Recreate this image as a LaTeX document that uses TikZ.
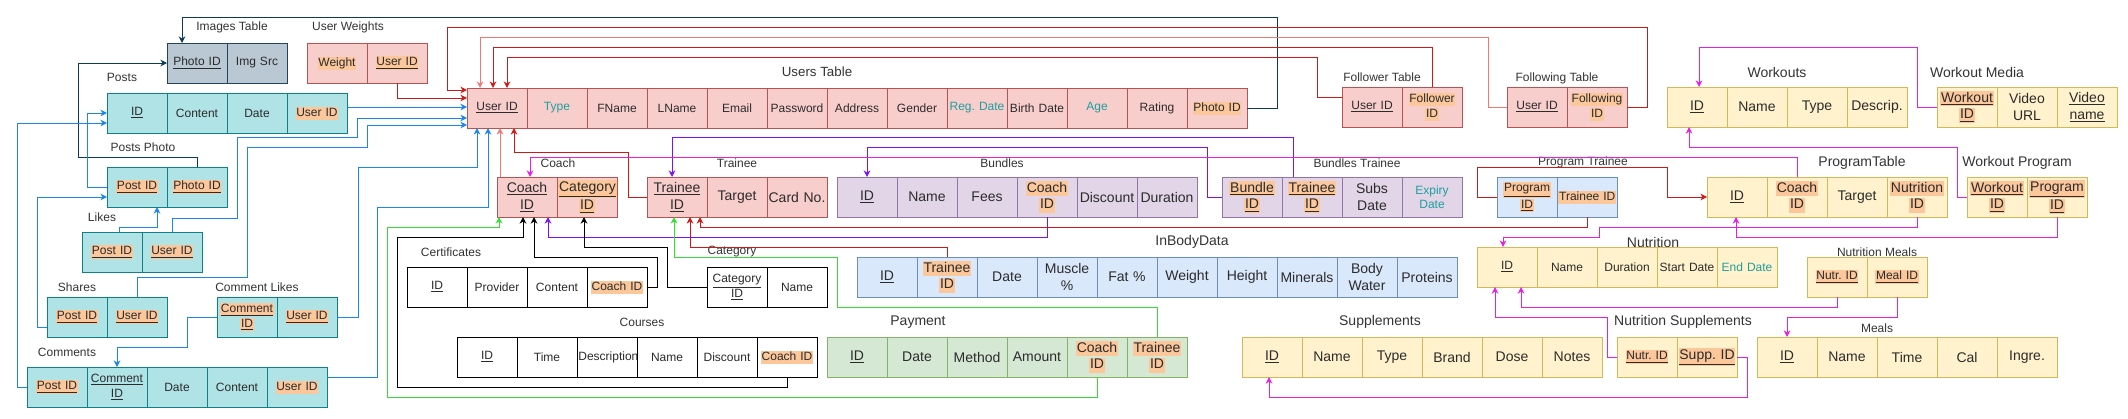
\documentclass[tikz,border=0pt]{standalone}
\usepackage{fontspec}
\setmainfont{Liberation Sans}
\usepackage{xcolor}
\usepackage{tikz}
\usetikzlibrary{positioning, arrows.meta}
\frenchspacing
\definecolor{userfill}{HTML}{F8CECC}
\definecolor{userline}{HTML}{B85450}
\definecolor{tealfill}{HTML}{B0E3E6}
\definecolor{tealline}{HTML}{0E8088}
\definecolor{slatefill}{HTML}{BAC8D3}
\definecolor{slateline}{HTML}{23445D}
\definecolor{lilacfill}{HTML}{E1D5E7}
\definecolor{lilacline}{HTML}{9673A6}
\definecolor{skyfill}{HTML}{DAE8FC}
\definecolor{skyline}{HTML}{6C8EBF}
\definecolor{mintfill}{HTML}{D5E8D4}
\definecolor{mintline}{HTML}{82B366}
\definecolor{sandfill}{HTML}{FFF2CC}
\definecolor{sandline}{HTML}{D6B656}
\definecolor{fkbg}{HTML}{FBC79B}
\definecolor{derivedtext}{HTML}{1F9E9E}
\definecolor{celltext}{HTML}{2B2B2B}
\definecolor{titletext}{HTML}{333333}
\definecolor{linkred}{HTML}{D01818}
\definecolor{linksalmon}{HTML}{EE7A76}
\definecolor{linkblue}{HTML}{1A86F0}
\definecolor{linknavy}{HTML}{0D3A5C}
\definecolor{linkviolet}{HTML}{7F10F0}
\definecolor{linkpink}{HTML}{E61EE6}
\definecolor{linkgreen}{HTML}{36DC36}
\newcommand{\pxtwelve}{\fontsize{9pt}{10.8pt}\selectfont}
\newcommand{\pxthirteen}{\fontsize{10pt}{12pt}\selectfont}
\newcommand{\pxfourteen}{\fontsize{10.5pt}{12.6pt}\selectfont}
\newcommand{\pkey}[1]{\underline{#1}}
\newcommand{\fkey}[1]{{\setlength{\fboxsep}{0.6pt}\colorbox{fkbg}{\rule[-0.22em]{0pt}{0.95em}#1}}}
\newcommand{\pfkey}[1]{\fkey{\underline{#1}}}
\newcommand{\derived}[1]{\textcolor{derivedtext}{#1}}

\begin{document}
\begin{tikzpicture}[x=0.75pt, y=-0.75pt, node distance=0pt]
    \tikzset{cell/.style={draw, line width=0.75pt, outer sep=0pt, inner sep=1pt, minimum width=45pt, minimum height=30pt, text width=43pt, align=center, font=\pxtwelve, text=celltext}, big/.style={font=\pxfourteen},
      usercell/.style={cell, draw=userline, fill=userfill}, tealcell/.style={cell, draw=tealline, fill=tealfill}, slatecell/.style={cell, draw=slateline, fill=slatefill}, lilaccell/.style={cell, big, draw=lilacline, fill=lilacfill}, skycell/.style={cell, draw=skyline, fill=skyfill}, mintcell/.style={cell, big, draw=mintline, fill=mintfill}, sandcell/.style={cell, draw=sandline, fill=sandfill}, plaincell/.style={cell, draw=black, fill=white},
      tabletitle/.style={font=\pxtwelve, text=titletext, inner sep=0pt}, bigtitle/.style={tabletitle, font=\pxfourteen},
      link/.style={-{Stealth[length=5pt,width=5pt]}, line width=0.75pt}, redlink/.style={link, draw=linkred}, salmonlink/.style={link, draw=linksalmon}, bluelink/.style={link, draw=linkblue}, navylink/.style={link, draw=linknavy}, violetlink/.style={link, draw=linkviolet}, pinklink/.style={link, draw=linkpink}, greenlink/.style={link, draw=linkgreen}, blacklink/.style={link, draw=black}}
    \useasboundingbox (0,0) rectangle (2128,418);
    % social side
    \node[tabletitle] (imgtitle) at (232,27) {Images Table};
    \node[slatecell, anchor=north west] (imgphoto) at (167,43) {\pkey{Photo ID}};
    \node[slatecell, right=of imgphoto] (imgsrc) {Img Src};
    \node[tabletitle] (uwtitle) at (348,27) {User Weights};
    \node[usercell, anchor=north west] (uwweight) at (307,43) {\fkey{Weight}};
    \node[usercell, right=of uwweight] (uwuser) {\pfkey{User ID}};
    \node[tabletitle] (potitle) at (122,77) {Posts};
    \node[tealcell, anchor=north west] (poid) at (107,93) {\pkey{ID}};
    \node[tealcell, right=of poid] (pocontent) {Content};
    \node[tealcell, right=of pocontent] (podate) {Date};
    \node[tealcell, right=of podate] (pouser) {\fkey{User ID}};
    \node[tabletitle] (pptitle) at (143,147) {Posts Photo};
    \node[tealcell, anchor=north west] (pppost) at (107,167) {\pfkey{Post ID}};
    \node[tealcell, right=of pppost] (ppphoto) {\pfkey{Photo ID}};
    \node[tabletitle] (lktitle) at (102,217) {Likes};
    \node[tealcell, anchor=north west] (lkpost) at (82,232) {\pfkey{Post ID}};
    \node[tealcell, right=of lkpost] (lkuser) {\pfkey{User ID}};
    \node[tabletitle] (shtitle) at (77,287) {Shares};
    \node[tealcell, anchor=north west] (shpost) at (47,297) {\pfkey{Post ID}};
    \node[tealcell, right=of shpost] (shuser) {\pfkey{User ID}};
    \node[tabletitle] (cltitle) at (257,287) {Comment Likes};
    \node[tealcell, anchor=north west] (clcomment) at (217,297) {\pfkey{Comment}\\\pfkey{ID}};
    \node[tealcell, right=of clcomment] (cluser) {\pfkey{User ID}};
    \node[tabletitle] (cmtitle) at (67,352) {Comments};
    \node[tealcell, anchor=north west] (cmpost) at (27,367) {\pfkey{Post ID}};
    \node[tealcell, right=of cmpost] (cmcomment) {\pkey{Comment}\\\pkey{ID}};
    \node[tealcell, right=of cmcomment] (cmdate) {Date};
    \node[tealcell, right=of cmdate] (cmcontent) {Content};
    \node[tealcell, right=of cmcontent] (cmuser) {\fkey{User ID}};
    % users
    \node[tabletitle, font=\pxthirteen] (utitle) at (817,72) {Users Table};
    \node[usercell, anchor=north west] (uid) at (467,88) {\pkey{User ID}};
    \node[usercell, right=of uid] (utype) {\derived{Type}};
    \node[usercell, right=of utype] (ufname) {FName};
    \node[usercell, right=of ufname] (ulname) {LName};
    \node[usercell, right=of ulname] (uemail) {Email};
    \node[usercell, right=of uemail] (upass) {Password};
    \node[usercell, right=of upass] (uaddress) {Address};
    \node[usercell, right=of uaddress] (ugender) {Gender};
    \node[usercell, right=of ugender] (ureg) {\derived{Reg. Date}};
    \node[usercell, right=of ureg] (ubirth) {Birth Date};
    \node[usercell, right=of ubirth] (uage) {\derived{Age}};
    \node[usercell, right=of uage] (urating) {Rating};
    \node[usercell, right=of urating] (uphoto) {\fkey{Photo ID}};
    \node[tabletitle] (fotitle) at (1382,77) {Follower Table};
    \node[usercell, anchor=north west] (fouser) at (1342,87) {\pkey{User ID}};
    \node[usercell, right=of fouser] (fofollower) {\fkey{Follower}\\\fkey{ID}};
    \node[tabletitle] (fgtitle) at (1557,78) {Following Table};
    \node[usercell, anchor=north west] (fguser) at (1507,87) {\pkey{User ID}};
    \node[usercell, right=of fguser] (fgfollowing) {\fkey{Following}\\\fkey{ID}};
    % workouts
    \node[bigtitle] (wktitle) at (1777,72) {Workouts};
    \node[sandcell, big, anchor=north west] (wkid) at (1667,87) {\pkey{ID}};
    \node[sandcell, big, right=of wkid] (wkname) {Name};
    \node[sandcell, big, right=of wkname] (wktype) {Type};
    \node[sandcell, big, right=of wktype] (wkdesc) {Descrip.};
    \node[bigtitle] (wmtitle) at (1977,72) {Workout Media};
    \node[sandcell, big, anchor=north west] (wmworkout) at (1937,87) {\pfkey{Workout}\\\pfkey{ID}};
    \node[sandcell, big, right=of wmworkout] (wmurl) {Video\\URL};
    \node[sandcell, big, right=of wmurl] (wmname) {\pkey{Video}\\\pkey{name}};
    % coaching row
    \node[tabletitle] (cotitle) at (558,163) {Coach};
    \node[usercell, big, anchor=north west] (cocoach) at (497,177) {\pkey{Coach}\\\pkey{ID}};
    \node[usercell, big, right=of cocoach] (cocategory) {\pfkey{Category}\\\pfkey{ID}};
    \node[tabletitle] (trtitle) at (737,163) {Trainee};
    \node[usercell, big, anchor=north west] (trtrainee) at (647,177) {\pkey{Trainee}\\\pkey{ID}};
    \node[usercell, big, right=of trtrainee] (trtarget) {Target};
    \node[usercell, big, right=of trtarget] (trcard) {Card No.};
    \node[tabletitle] (butitle) at (1002,163) {Bundles};
    \node[lilaccell, anchor=north west] (buid) at (837,177) {\pkey{ID}};
    \node[lilaccell, right=of buid] (buname) {Name};
    \node[lilaccell, right=of buname] (bufees) {Fees};
    \node[lilaccell, right=of bufees] (bucoach) {\fkey{Coach}\\\fkey{ID}};
    \node[lilaccell, right=of bucoach] (budiscount) {Discount};
    \node[lilaccell, right=of budiscount] (buduration) {Duration};
    \node[tabletitle] (bttitle) at (1357,163) {Bundles Trainee};
    \node[lilaccell, anchor=north west] (btbundle) at (1222,177) {\pfkey{Bundle}\\\pfkey{ID}};
    \node[lilaccell, right=of btbundle] (bttrainee) {\pfkey{Trainee}\\\pfkey{ID}};
    \node[lilaccell, right=of bttrainee] (btsubs) {Subs\\Date};
    \node[lilaccell, right=of btsubs, font=\pxtwelve] (btexpiry) {\derived{Expiry}\\\derived{Date}};
    \node[tabletitle] (pttitle) at (1583,162) {Program Trainee};
    \node[skycell, anchor=north west] (ptprogram) at (1497,177) {\pfkey{Program}\\\pfkey{ID}};
    \node[skycell, right=of ptprogram] (pttrainee) {\fkey{Trainee ID}};
    \node[bigtitle] (pgtitle) at (1862,163) {ProgramTable};
    \node[sandcell, big, anchor=north west] (pgid) at (1707,177) {\pkey{ID}};
    \node[sandcell, big, right=of pgid] (pgcoach) {\fkey{Coach}\\\fkey{ID}};
    \node[sandcell, big, right=of pgcoach] (pgtarget) {Target};
    \node[sandcell, big, right=of pgtarget] (pgnutrition) {\fkey{Nutrition}\\\fkey{ID}};
    \node[bigtitle] (wptitle) at (2017,163) {Workout Program};
    \node[sandcell, big, anchor=north west] (wpworkout) at (1967,177) {\pfkey{Workout}\\\pfkey{ID}};
    \node[sandcell, big, right=of wpworkout] (wpprogram) {\pfkey{Program}\\\pfkey{ID}};
    % lower rows
    \node[tabletitle] (cetitle) at (451,252) {Certificates};
    \node[plaincell, anchor=north west] (ceid) at (407,267) {\pkey{ID}};
    \node[plaincell, right=of ceid] (ceprovider) {Provider};
    \node[plaincell, right=of ceprovider] (cecontent) {Content};
    \node[plaincell, right=of cecontent] (cecoach) {\fkey{Coach ID}};
    \node[tabletitle] (catitle) at (732,252) {Category};
    \node[plaincell, anchor=north west] (cacategory) at (707,267) {\pkey{Category}\\\pkey{ID}};
    \node[plaincell, right=of cacategory] (caname) {Name};
    \node[bigtitle] (ibtitle) at (1192,242) {InBodyData};
    \node[skycell, big, anchor=north west] (ibid) at (857,257) {\pkey{ID}};
    \node[skycell, big, right=of ibid] (ibtrainee) {\fkey{Trainee}\\\fkey{ID}};
    \node[skycell, big, right=of ibtrainee] (ibdate) {Date};
    \node[skycell, big, right=of ibdate] (ibmuscle) {Muscle\\\%};
    \node[skycell, big, right=of ibmuscle] (ibfat) {Fat \%};
    \node[skycell, big, right=of ibfat] (ibweight) {Weight};
    \node[skycell, big, right=of ibweight] (ibheight) {Height};
    \node[skycell, big, right=of ibheight] (ibminerals) {Minerals};
    \node[skycell, big, right=of ibminerals] (ibwater) {Body\\Water};
    \node[skycell, big, right=of ibwater] (ibproteins) {Proteins};
    \node[bigtitle] (nutitle) at (1653,242) {Nutrition};
    \node[sandcell, anchor=north west] (nuid) at (1477,247) {\pkey{ID}};
    \node[sandcell, right=of nuid] (nuname) {Name};
    \node[sandcell, right=of nuname] (nuduration) {Duration};
    \node[sandcell, right=of nuduration] (nustart) {Start Date};
    \node[sandcell, right=of nustart] (nuend) {\derived{End Date}};
    \node[tabletitle] (nmtitle) at (1877,252) {Nutrition Meals};
    \node[sandcell, anchor=north west] (nmnutr) at (1807,257) {\pfkey{Nutr. ID}};
    \node[sandcell, right=of nmnutr] (nmmeal) {\pfkey{Meal ID}};
    \node[tabletitle] (cstitle) at (642,322) {Courses};
    \node[plaincell, anchor=north west] (csid) at (457,337) {\pkey{ID}};
    \node[plaincell, right=of csid] (cstime) {Time};
    \node[plaincell, right=of cstime] (csdesc) {Description};
    \node[plaincell, right=of csdesc] (csname) {Name};
    \node[plaincell, right=of csname] (csdiscount) {Discount};
    \node[plaincell, right=of csdiscount] (cscoach) {\fkey{Coach ID}};
    \node[bigtitle] (patitle) at (918,322) {Payment};
    \node[mintcell, anchor=north west] (paid) at (827,337) {\pkey{ID}};
    \node[mintcell, right=of paid] (padate) {Date};
    \node[mintcell, right=of padate] (pamethod) {Method};
    \node[mintcell, right=of pamethod] (paamount) {Amount};
    \node[mintcell, right=of paamount] (pacoach) {\fkey{Coach}\\\fkey{ID}};
    \node[mintcell, right=of pacoach] (patrainee) {\fkey{Trainee}\\\fkey{ID}};
    \node[bigtitle] (sutitle) at (1380,322) {Supplements};
    \node[sandcell, big, anchor=north west] (suid) at (1242,337) {\pkey{ID}};
    \node[sandcell, big, right=of suid] (suname) {Name};
    \node[sandcell, big, right=of suname] (sutype) {Type};
    \node[sandcell, big, right=of sutype] (subrand) {Brand};
    \node[sandcell, big, right=of subrand] (sudose) {Dose};
    \node[sandcell, big, right=of sudose] (sunotes) {Notes};
    \node[bigtitle] (nstitle) at (1683,322) {Nutrition Supplements};
    \node[sandcell, anchor=north west] (nsnutr) at (1617,337) {\pfkey{Nutr. ID}};
    \node[sandcell, big, right=of nsnutr] (nssupp) {\pfkey{Supp. ID}};
    \node[tabletitle] (metitle) at (1877,328) {Meals};
    \node[sandcell, big, anchor=north west] (meid) at (1757,337) {\pkey{ID}};
    \node[sandcell, big, right=of meid] (mename) {Name};
    \node[sandcell, big, right=of mename] (metime) {Time};
    \node[sandcell, big, right=of metime] (mecal) {Cal};
    \node[sandcell, big, right=of mecal] (meingre) {Ingre.};
    % links
    \draw[navylink] (uphoto.east) -| (1277,17) -| (182,0 |- imgphoto.north); \draw[navylink] (ppphoto.north) |- (78,157) |- (imgphoto.west);
    \draw[bluelink] (pouser.east |- 0,107) -- (uid.west |- 0,107); \draw[bluelink] (pppost.west) -- ++(-20,0) |- (poid.west); \draw[bluelink] (cmpost.west) -- ++(-10,0) |- (poid.west |- 0,123); \draw[bluelink] (shpost.west |- 0,327) -- ++(-10,0) |- (pppost.west |- 0,197);
    \draw[bluelink] (119,0 |- lkpost.north) |- (157,227) -- (157,0 |- pppost.south); \draw[bluelink] (lkuser.north) |- (237,218) |- (357,137) |- (uid.west |- 0,118); \draw[bluelink] (shuser.north) |- (247,277) |- (367,147) |- (uid.west |- 0,125);
    \draw[bluelink] (cluser.east) -| (358,167) -| (477,0 |- uid.south); \draw[bluelink] (cmuser.east |- 0,377) -| (377,207) -| (488,0 |- uid.south); \draw[bluelink] (clcomment.west) -| (187,347) -| (cmcomment.north);
    \draw[redlink] (fgfollowing.east) -| (1647,27) -| (447,90) -- (uid.west |- 0,90); \draw[redlink] (uwuser.south) |- (uid.west |- 0,98); \draw[salmonlink] (fguser.west) -| (1488,37) -| (480,0 |- uid.north);
    \draw[redlink] (fofollower.north) |- (493,47) -- (493,0 |- uid.north); \draw[redlink] (fouser.west |- 0,97) -| (1317,57) -| (507,0 |- uid.north); \draw[salmonlink] (500,0 |- cocoach.north) -- (500,0 |- uid.south);
    \draw[redlink] (trtrainee.west) -| (628,152) -| (514,0 |- uid.south); \draw[redlink] (ptprogram.west) -| (1477,167) -| (1667,197) -- (pgid.west); \draw[redlink] (pttrainee.south) |- (700,227) -- (700,0 |- trtrainee.south); \draw[redlink] (ibtrainee.north) |- (690,247) -- (690,0 |- trtrainee.south);
    \draw[violetlink] (1293,0 |- bttrainee.north) |- (672,137) -- (672,0 |- trtrainee.north); \draw[violetlink] (btbundle.west) -| (1207,147) -| (buid.north); \draw[violetlink] (bucoach.south) |- (548,237) -- (548,0 |- cocoach.south);
    \draw[pinklink] (pgcoach.north) |- (530,157) -- (530,0 |- cocoach.north); \draw[pinklink] (wpworkout.west) -| (1957,147) -| (1689,0 |- wkid.south); \draw[pinklink] (wmworkout.west) -| (1917,47) -| (1699,0 |- wkid.north);
    \draw[pinklink] (wpprogram.south) |- (1736,237) -- (1736,0 |- pgid.south); \draw[pinklink] (pgnutrition.south) |- (1599,227) |- (1503,237) -- (1503,0 |- nuid.north); \draw[pinklink] (nsnutr.west) -| (1607,317) -| (1495,0 |- nuid.south);
    \draw[pinklink] (nssupp.east) -| (1747,397) -| (1269,0 |- suid.south); \draw[pinklink] (nmnutr.south) |- (1521,307) -- (1521,0 |- nuid.south); \draw[pinklink] (nmmeal.south) |- (1787,317) -- (1787,0 |- meid.north);
    \draw[greenlink] (patrainee.north) |- (837,307) |- (674,257) -- (674,0 |- trtrainee.south); \draw[greenlink] (pacoach.south) |- (387,397) |- (499,227) -- (499,0 |- cocoach.south);
    \draw[blacklink] (cecoach.east) -| (657,257) -| (534,0 |- cocoach.south); \draw[blacklink] (cacategory.west) -| (667,247) -| (584,0 |- cocategory.south); \draw[blacklink] (cscoach.south) |- (397,387) |- (523,237) -- (523,0 |- cocoach.south);
\end{tikzpicture}
\end{document}
